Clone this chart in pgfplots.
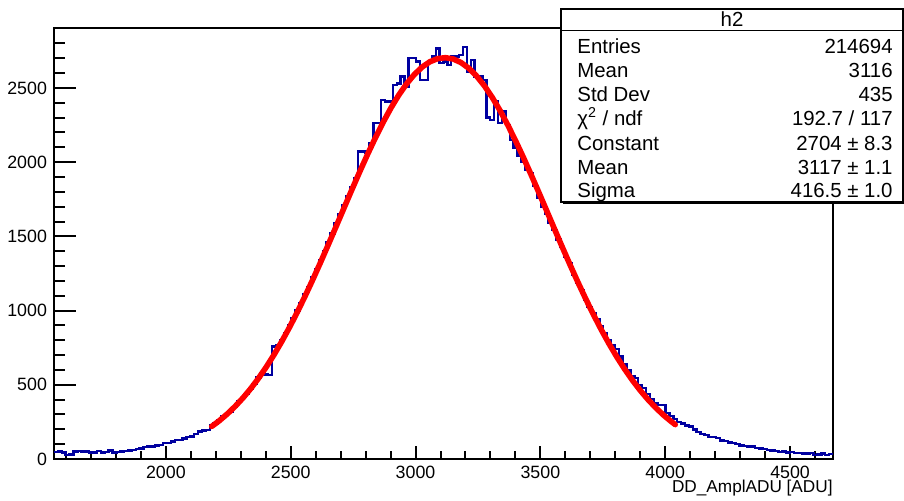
\documentclass[border=0pt]{standalone}
\usepackage{fontspec}
\setmainfont{Liberation Sans}
\usepackage{pgfplots}
\pgfplotsset{compat=1.18}
\definecolor{histblue}{RGB}{0,0,160}
\definecolor{fitred}{RGB}{255,0,0}

\pgfplotsset{rootframe/.style={
  at={(0,0)}, anchor=south west, scale only axis,
  width=389.5pt, height=215.5pt,
  xmin=1552, xmax=4672, ymin=0, ymax=2904,
  axis line style={line width=1.1pt},
  tick style={black, line width=1pt},
  tick align=inside,
  xtick pos=left, ytick pos=left,
  /pgf/number format/1000 sep={},
  /pgf/number format/assume math mode=true,
  ticklabel style={font=\fontsize{8.9}{10}\selectfont},
}}

\begin{document}
\begin{tikzpicture}
\useasboundingbox (-27pt,-20.5pt) rectangle (425pt,229.5pt);
% x axis ticks and label
\begin{axis}[rootframe,
  ytick=\empty,
  xtick={2000,2500,3000,3500,4000,4500},
  minor xtick={1600,1700,...,4600},
  major tick length=6.3pt, minor tick length=3.8pt,
  xlabel={DD\_AmplADU [ADU]},
  xlabel style={at={(rel axis cs:1,0)}, anchor=north east, yshift=-10.5pt,
    inner sep=0pt, font=\fontsize{8.6}{10}\selectfont},
]
\end{axis}
% y axis ticks and the data
\begin{axis}[rootframe,
  xtick=\empty,
  ytick={0,500,1000,1500,2000,2500},
  minor ytick={100,200,...,2800},
  major tick length=11pt, minor tick length=5.5pt,
  no markers,
]
\addplot[histblue, line width=1.2pt, const plot mark left] coordinates {
(1552.0,49)(1567.6,50)(1583.2,44)(1598.8,28)(1614.4,30)(1630.0,50)(1645.6,52)(1661.2,51)(1676.8,50)(1692.4,45)
(1708.0,44)(1723.6,55)(1739.2,45)(1754.8,46)(1770.4,56)(1786.0,45)(1801.6,46)(1817.2,50)(1832.8,52)(1848.4,58)
(1864.0,62)(1879.6,66)(1895.2,72)(1910.8,82)(1926.4,84)(1942.0,83)(1957.6,90)(1973.2,96)(1988.8,106)(2004.4,108)
(2020.0,118)(2035.6,128)(2051.2,130)(2066.8,138)(2082.4,150)(2098.0,152)(2113.6,168)(2129.2,186)(2144.8,192)(2160.4,196)
(2176.0,228)(2191.6,240)(2207.2,262)(2222.8,290)(2238.4,305)(2254.0,318)(2269.6,350)(2285.2,392)(2300.8,410)(2316.4,440)
(2332.0,470)(2347.6,505)(2363.2,548)(2378.8,580)(2394.4,570)(2410.0,566)(2425.6,757)(2441.2,765)(2456.8,800)(2472.4,849)
(2488.0,900)(2503.6,950)(2519.2,1000)(2534.8,1050)(2550.4,1110)(2566.0,1160)(2581.6,1225)(2597.2,1280)(2612.8,1340)(2628.4,1400)
(2644.0,1462)(2659.6,1520)(2675.2,1590)(2690.8,1650)(2706.4,1710)(2722.0,1770)(2737.6,1830)(2753.2,1890)(2768.8,2071)(2784.4,2071)
(2800.0,2060)(2815.6,2130)(2831.2,2264)(2846.8,2264)(2862.4,2419)(2878.0,2408)(2893.6,2408)(2909.2,2520)(2924.8,2531)(2940.4,2577)
(2956.0,2509)(2971.6,2700)(2987.2,2700)(3002.8,2677)(3018.4,2554)(3034.0,2554)(3049.6,2680)(3065.2,2711)(3080.8,2767)(3096.4,2667)
(3112.0,2677)(3127.6,2655)(3143.2,2711)(3158.8,2711)(3174.4,2722)(3190.0,2774)(3205.6,2610)(3221.2,2689)(3236.8,2577)(3252.4,2577)
(3268.0,2554)(3283.6,2300)(3299.2,2284)(3314.8,2408)(3330.4,2262)(3346.0,2341)(3361.6,2250)(3377.2,2150)(3392.8,2100)(3408.4,2040)
(3424.0,2000)(3439.6,1950)(3455.2,1927)(3470.8,1840)(3486.4,1760)(3502.0,1700)(3517.6,1650)(3533.2,1590)(3548.8,1545)(3564.4,1480)
(3580.0,1428)(3595.6,1361)(3611.2,1320)(3626.8,1240)(3642.4,1186)(3658.0,1139)(3673.6,1070)(3689.2,1024)(3704.8,985)(3720.4,940)
(3736.0,895)(3751.6,850)(3767.2,800)(3782.8,770)(3798.4,740)(3814.0,690)(3829.6,640)(3845.2,600)(3860.8,560)(3876.4,546)
(3892.0,500)(3907.6,478)(3923.2,440)(3938.8,405)(3954.4,375)(3970.0,364)(3985.6,364)(4001.2,310)(4016.8,290)(4032.4,268)
(4048.0,251)(4063.6,240)(4079.2,225)(4094.8,218)(4110.4,200)(4126.0,182)(4141.6,170)(4157.2,160)(4172.8,148)(4188.4,148)
(4204.0,140)(4219.6,126)(4235.2,120)(4250.8,110)(4266.4,108)(4282.0,100)(4297.6,92)(4313.2,88)(4328.8,84)(4344.4,83)
(4360.0,76)(4375.6,70)(4391.2,66)(4406.8,61)(4422.4,56)(4438.0,52)(4453.6,49)(4469.2,50)(4484.8,44)(4500.4,46)
(4516.0,42)(4531.6,40)(4547.2,38)(4562.8,36)(4578.4,40)(4594.0,27)(4609.6,30)(4625.2,36)(4640.8,28)(4656.4,34)
(4672.0,34)
};
% gaussian fit
\addplot[fitred, line width=2.8pt, line join=round, line cap=round] coordinates {
(2183.8,219.8)(2215.0,259.2)(2246.2,303.9)(2277.4,354.5)(2308.6,411.1)(2339.8,474.1)(2371.0,543.7)(2402.2,620.1)
(2433.4,703.2)(2464.6,793.0)(2495.8,889.2)(2527.0,991.4)(2558.2,1099.4)(2589.4,1212.1)(2620.6,1329.1)(2651.8,1449.1)
(2683.0,1571.2)(2714.2,1694.0)(2745.4,1816.2)(2776.6,1936.2)(2807.8,2052.7)(2839.0,2164.1)(2870.2,2268.7)(2901.4,2365.0)
(2932.6,2451.6)(2963.8,2527.2)(2995.0,2590.5)(3026.2,2640.6)(3057.4,2676.5)(3088.6,2697.8)(3119.8,2704.0)(3151.0,2695.1)
(3182.2,2671.1)(3213.4,2632.6)(3244.6,2580.1)(3275.8,2514.5)(3307.0,2436.8)(3338.2,2348.4)(3369.4,2250.4)(3400.6,2144.5)
(3431.8,2032.2)(3463.0,1914.9)(3494.2,1794.4)(3525.4,1672.0)(3556.6,1549.2)(3587.8,1427.4)(3619.0,1307.8)(3650.2,1191.6)
(3681.4,1079.6)(3712.6,972.7)(3743.8,871.4)(3775.0,776.3)(3806.2,687.7)(3837.4,605.9)(3868.6,530.7)(3899.8,462.4)
(3931.0,400.5)(3962.2,345.0)(3993.4,295.5)(4024.6,251.8)(4040.2,231.9)
};
\end{axis}
% statistics box
\begin{scope}[font=\fontsize{10.2}{12}\selectfont]
\fill[black] (254.5pt,127.3pt) rectangle (425.5pt,224pt);
\draw[line width=0.8pt, fill=white] (253.5pt,128.5pt) rectangle (424.5pt,225pt);
\draw[line width=0.8pt] (253.5pt,214.3pt) -- (424.5pt,214.3pt);
\node[anchor=base, inner sep=0pt] at (339pt,216.2pt) {h2};
\node[anchor=base west, inner sep=0pt] at (261.5pt,202.8pt) {Entries};
\node[anchor=base east, inner sep=0pt] at (419.5pt,202.8pt) {214694};
\node[anchor=base west, inner sep=0pt] at (261.5pt,190.8pt) {Mean};
\node[anchor=base east, inner sep=0pt] at (419.5pt,190.8pt) {3116};
\node[anchor=base west, inner sep=0pt] at (261.5pt,178.7pt) {Std Dev};
\node[anchor=base east, inner sep=0pt] at (419.5pt,178.7pt) {435};
\node[anchor=base west, inner sep=0pt] at (261.5pt,167pt) {χ\textsuperscript{2} / ndf};
\node[anchor=base east, inner sep=0pt] at (419.5pt,167pt) {192.7 / 117};
\node[anchor=base west, inner sep=0pt] at (261.5pt,154.4pt) {Constant};
\node[anchor=base east, inner sep=0pt] at (419.5pt,154.4pt) {2704 ± 8.3};
\node[anchor=base west, inner sep=0pt] at (261.5pt,142.5pt) {Mean};
\node[anchor=base east, inner sep=0pt] at (419.5pt,142.5pt) {3117 ± 1.1};
\node[anchor=base west, inner sep=0pt] at (261.5pt,130.8pt) {Sigma};
\node[anchor=base east, inner sep=0pt] at (419.5pt,130.8pt) {416.5 ± 1.0};
\end{scope}
\end{tikzpicture}
\end{document}
